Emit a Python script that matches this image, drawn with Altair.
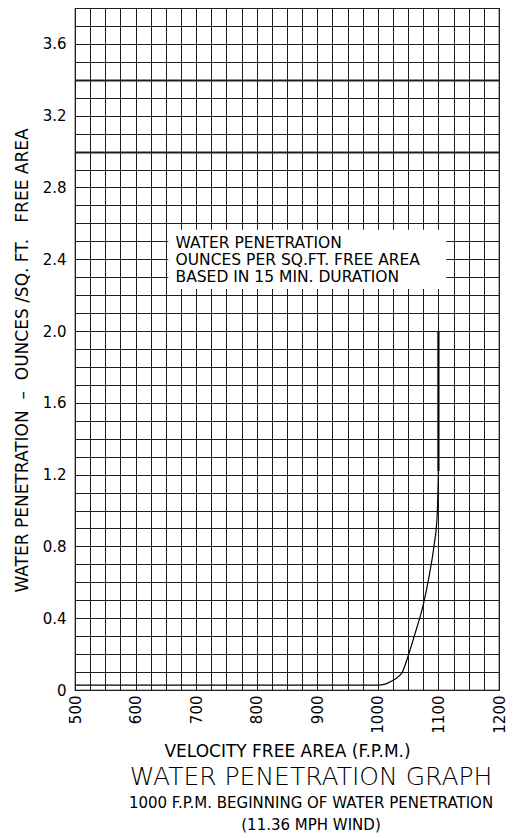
import altair as alt
import pandas as pd

# ---- data ----
curve_x = [500, 1000, 1012, 1023, 1032, 1040, 1050, 1061, 1075, 1085, 1093, 1098, 1100]
curve_y = [0.027, 0.027, 0.033, 0.05, 0.07, 0.097, 0.19, 0.31, 0.476, 0.642, 0.81, 0.975, 1.22]
steep_x = [1100, 1100]
steep_y = [1.22, 2.0]

note_lines = ["WATER PENETRATION", "OUNCES PER SQ.FT. FREE AREA", "BASED IN 15 MIN. DURATION"]
note_x = [666, 666, 666]
note_y = [2.49, 2.396, 2.302]

box_x = [654]
box_x2 = [1113]
box_y = [2.235]
box_y2 = [2.565]

x_grid = list(range(500, 1201, 25))
x_labels = list(range(500, 1201, 100))
y_grid = [round(i * 0.1, 1) for i in range(39)]
y_labels = [round(i * 0.4, 1) for i in range(10)]

FONT = "DejaVu Sans"

curve_df = pd.DataFrame({"x": curve_x, "y": curve_y})
steep_df = pd.DataFrame({"x": steep_x, "y": steep_y})
note_df = pd.DataFrame({"x": note_x, "y": note_y, "t": note_lines})
box_df = pd.DataFrame({"x": box_x, "x2": box_x2, "y": box_y, "y2": box_y2})

xscale = alt.Scale(domain=[500, 1200], nice=False, zero=False)
yscale = alt.Scale(domain=[0, 3.8], nice=False)

GRID = "#1e1e1e"

# grid-only axes
x_grid_axis = alt.Axis(
    values=x_grid, labels=False, ticks=False, domain=False, title=None,
    grid=True, gridColor=GRID, gridOpacity=1, gridWidth=1, orient="bottom",
)
y_grid_axis = alt.Axis(
    values=y_grid, labels=False, ticks=False, domain=False, title=None,
    grid=True, gridColor=GRID, gridOpacity=1, orient="left",
    gridWidth={"condition": {"test": "abs(datum.value - 3.0) < 0.01 || abs(datum.value - 3.4) < 0.01", "value": 2.2}, "value": 1},
)

# label axes
x_label_axis = alt.Axis(
    values=x_labels, format="d", labelAngle=-90, labelOverlap=False,
    labelFontSize=15, labelPadding=5, ticks=False, domain=False, grid=False,
    title="VELOCITY FREE AREA (F.P.M.)", titleFontSize=17, titlePadding=10,
    orient="bottom",
)
y_label_axis = alt.Axis(
    values=y_labels,
    labelExpr="datum.value === 0 ? '0' : format(datum.value, '.1f')",
    labelOverlap=False, labelFontSize=15, labelPadding=9, ticks=False,
    domain=False, grid=False,
    title="WATER PENETRATION \u00a0\u2013\u00a0 OUNCES /SQ. FT. \u00a0\u00a0FREE AREA",
    titleFontSize=17, titlePadding=11, titleY=352, orient="left",
)

box = alt.Chart(box_df).mark_rect(color="white", opacity=1).encode(
    x=alt.X("x:Q", scale=xscale, axis=x_grid_axis),
    x2="x2:Q",
    y=alt.Y("y:Q", scale=yscale, axis=y_grid_axis),
    y2="y2:Q",
)

notes = alt.Chart(note_df).mark_text(
    align="left", baseline="middle", font=FONT, fontSize=15.5, color="black"
).encode(
    x=alt.X("x:Q", scale=xscale, axis=x_label_axis),
    y=alt.Y("y:Q", scale=yscale, axis=y_label_axis),
    text="t:N",
)

curve = alt.Chart(curve_df).mark_line(
    color="black", strokeWidth=1.2, interpolate="monotone"
).encode(
    x=alt.X("x:Q", scale=xscale, axis=None),
    y=alt.Y("y:Q", scale=yscale, axis=None),
)

steep = alt.Chart(steep_df).mark_line(color="black", strokeWidth=2.2).encode(
    x=alt.X("x:Q", scale=xscale, axis=None),
    y=alt.Y("y:Q", scale=yscale, axis=None),
)

chart = (
    alt.layer(box, notes, curve, steep)
    .resolve_axis(x="independent", y="independent")
    .properties(
        width=424,
        height=682,
        background="white",
        padding={"left": 5, "top": 0, "right": 0, "bottom": 0},
        title=alt.TitleParams(
            text="WATER PENETRATION GRAPH",
            subtitle=["1000 F.P.M. BEGINNING OF WATER PENETRATION", "(11.36 MPH WIND)"],
            orient="bottom",
            anchor="middle",
            dx=24,
            offset=6,
            font=FONT,
            fontSize=25,
            fontWeight=200,
            color="black",
            subtitleFont=FONT,
            subtitleFontSize=15,
            subtitleColor="black",
            subtitleLineHeight=22,
            subtitlePadding=6,
        ),
    )
    .configure_view(stroke="black", strokeWidth=1.2)
    .configure_axis(
        labelFont=FONT,
        titleFont=FONT,
        labelColor="black",
        titleColor="black",
        titleFontWeight="normal",
    )
)

chart.save("out.html", embed_options={"renderer": "svg", "actions": False})
